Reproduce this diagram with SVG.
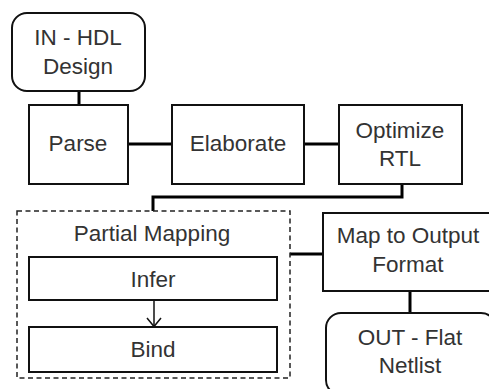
<svg xmlns="http://www.w3.org/2000/svg" width="489" height="389" viewBox="0 0 489 389">
<style>
.box{fill:#fff;stroke:#111;stroke-width:2}
.conn{fill:none;stroke:#000;stroke-width:3}
.dash{fill:none;stroke:#222;stroke-width:1.5;stroke-dasharray:5 3.5}
text{font-family:"Liberation Sans",Arial,sans-serif;font-size:22.5px;fill:#333;text-anchor:middle}
</style>
<rect width="489" height="389" fill="#fff"/>
<g id="connectors">
<line class="conn" x1="79" y1="91" x2="79" y2="106"/>
<line class="conn" x1="128" y1="144" x2="172" y2="144"/>
<line class="conn" x1="304" y1="144" x2="339" y2="144"/>
<polyline class="conn" points="402,184 402,197 153,197 153,211"/>
<line class="conn" x1="290" y1="254" x2="323" y2="254"/>
<line class="conn" x1="410" y1="291" x2="410" y2="313"/>
<line stroke="#111" stroke-width="1.5" x1="154" y1="300" x2="154" y2="326"/>
<polyline fill="none" stroke="#111" stroke-width="1.5" points="147,318 154,326.5 161,318"/>
</g>
<g id="in-hdl">
<rect class="box" x="12" y="13" width="133" height="78" rx="15"/>
<text x="78" y="45">IN - HDL</text>
<text x="78" y="74">Design</text>
</g>
<g id="parse">
<rect class="box" x="29" y="105" width="99" height="79"/>
<text x="78" y="151">Parse</text>
</g>
<g id="elaborate">
<rect class="box" x="172" y="105" width="132" height="79"/>
<text x="238" y="151">Elaborate</text>
</g>
<g id="optimize">
<rect class="box" x="339" y="105" width="123" height="79"/>
<text x="400" y="138">Optimize</text>
<text x="400" y="166">RTL</text>
</g>
<g id="partial-mapping">
<rect class="dash" x="17" y="211" width="273" height="167"/>
<text x="152" y="241">Partial Mapping</text>
</g>
<g id="infer">
<rect class="box" x="29" y="257" width="248" height="43"/>
<text x="153" y="287">Infer</text>
</g>
<g id="bind">
<rect class="box" x="29" y="327" width="248" height="45"/>
<text x="153" y="357">Bind</text>
</g>
<g id="map-output">
<rect class="box" x="323" y="213" width="170" height="78"/>
<text x="408" y="243">Map to Output</text>
<text x="408" y="272">Format</text>
</g>
<g id="out-flat">
<rect class="box" x="326" y="313" width="170" height="82" rx="15"/>
<text x="410" y="345">OUT - Flat</text>
<text x="410" y="373">Netlist</text>
</g>
</svg>
